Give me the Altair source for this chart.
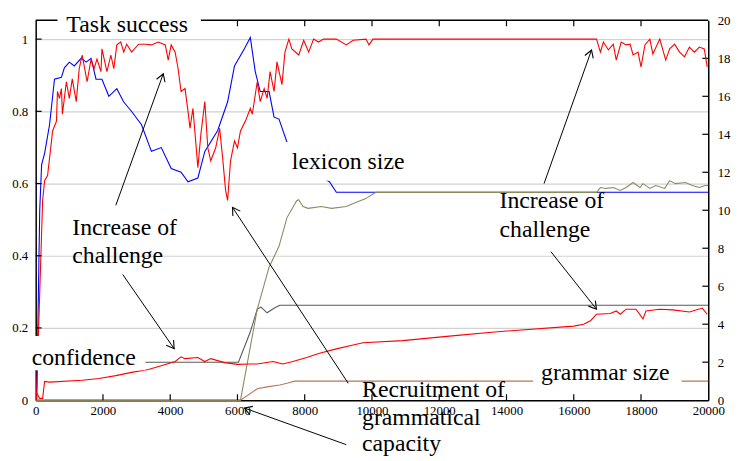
import math
import altair as alt
import pandas as pd

SERIF = "'Liberation Serif', 'Times New Roman', Times, 'DejaVu Serif', serif"

# ---------------- axes ----------------
x_ticks = list(range(0, 20001, 2000))
left_ticks = [0, 0.2, 0.4, 0.6, 0.8, 1.0]
right_ticks = list(range(0, 21, 2))
left_max = 1.052
right_max = 20

# ---------------- series (left axis, 0..1) ----------------
task_x = [20, 206, 265, 353, 471, 500, 618, 647, 706, 765, 794, 912, 1000, 1088, 1206, 1294, 1382,
          1529, 1647, 1735, 1823, 1941, 1970, 2118, 2235, 2323, 2412, 2529, 2618, 2706, 2853, 3059,
          3265, 3441, 3647, 3853, 3941, 4029, 4147, 4235, 4323, 4441, 4529, 4588, 4676, 4823, 4912,
          5029, 5118, 5206, 5353, 5470, 5559, 5647, 5706, 5794, 5912, 6000, 6088, 6235, 6382, 6441,
          6588, 6676, 6794, 6882, 6970, 7088, 7176, 7323, 7412, 7529, 7617, 7823, 7970, 8118, 8264,
          8411, 8558, 8941, 9235, 9441, 9823, 9911, 10029, 16676, 16793, 16882, 17029, 17176, 17264,
          17411, 17558, 17676, 17764, 17911, 18000, 18117, 18264, 18352, 18558, 18735, 18852, 18999,
          19146, 19293, 19440, 19587, 19734, 19881, 19969]
task_y = [0.0, 0.553, 0.608, 0.622, 0.718, 0.745, 0.773, 0.855, 0.836, 0.863, 0.792, 0.882, 0.836,
          0.89, 0.827, 0.918, 0.956, 0.882, 0.945, 0.918, 0.945, 0.91, 0.973, 0.91, 0.956, 0.918,
          0.984, 0.992, 0.964, 0.986, 0.964, 0.986, 0.986, 0.984, 0.992, 0.984, 0.942, 0.984, 0.964,
          0.918, 0.855, 0.863, 0.8, 0.753, 0.808, 0.644, 0.737, 0.827, 0.699, 0.663, 0.699, 0.753,
          0.671, 0.581, 0.553, 0.663, 0.718, 0.699, 0.745, 0.773, 0.808, 0.792, 0.882, 0.827, 0.863,
          0.836, 0.91, 0.855, 0.937, 0.874, 0.964, 1.0, 0.973, 0.956, 0.997, 0.964, 1.0, 0.992, 1.0,
          1.0, 0.984, 0.997, 1.0, 0.984, 1.0, 1.0, 0.964, 0.992, 0.97, 0.986, 0.942, 0.992, 0.984,
          0.986, 0.956, 0.964, 0.923, 0.984, 1.0, 0.959, 1.0, 0.942, 0.973, 0.986, 0.964, 0.951,
          0.978, 0.964, 0.978, 0.973, 0.923]

conf_x = [29, 118, 206, 265, 412, 1382, 1882, 2382, 2853, 3353, 3853, 4147, 4323, 4441, 4823, 5029,
          5206, 5617, 6000, 6382, 6588, 7058, 7353, 7647, 8058, 8441, 8941, 9441, 9735, 10911,
          12382, 13646, 16000, 16294, 16500, 16676, 17088, 17264, 17382, 17558, 17852, 18058,
          18147, 18558, 18940, 19440, 19822, 19969]
conf_y = [0.02, 0.005, 0.005, 0.052, 0.05, 0.055, 0.06, 0.068, 0.077, 0.085, 0.099, 0.107, 0.12,
          0.115, 0.118, 0.107, 0.115, 0.104, 0.099, 0.1, 0.1, 0.107, 0.1, 0.107, 0.118, 0.13, 0.142,
          0.153, 0.159, 0.165, 0.178, 0.189, 0.205, 0.21, 0.22, 0.238, 0.24, 0.247, 0.238, 0.252,
          0.252, 0.225, 0.247, 0.252, 0.25, 0.244, 0.255, 0.238]

# ---------------- series (right axis, 0..20) ----------------
lex_x = [30, 120, 176, 265, 412, 559, 765, 853, 1000, 1147, 1353, 1500, 1647, 1794, 1970, 2176,
         2412, 2618, 2853, 3147, 3441, 3735, 4029, 4323, 4529, 4823, 5029, 5412, 5706, 5912, 6206,
         6382, 6529, 6676, 6941, 7088, 7235, 7470, 8441, 8735, 8941, 20000]
lex_y = [0, 10.0, 12.4, 13.0, 14.5, 16.9, 17.0, 17.5, 17.8, 17.6, 18.0, 17.8, 18.0, 16.9, 16.9,
         16.0, 16.4, 15.7, 15.2, 14.5, 13.1, 13.3, 12.2, 12.0, 11.5, 11.7, 13.1, 14.2, 15.7, 17.6,
         18.5, 19.1, 17.3, 16.25, 16.25, 14.9, 14.8, 13.6, 11.8, 11.5, 10.95, 10.95]

olive_x = [0, 6090, 6590, 6940, 7235, 7470, 7760, 7820, 7950, 8100, 8500, 8800, 9235, 9500, 9800,
           10118, 16676, 16793, 16970, 17176, 17382, 17558, 17764, 17970, 18058, 18264, 18440,
           18705, 18852, 19028, 19322, 19528, 19734, 19910, 20000]
olive_y = [0, 0, 4.8, 7.0, 8.1, 9.6, 10.5, 10.55, 10.2, 10.1, 10.2, 10.1, 10.2, 10.4, 10.6, 10.94,
           10.94, 11.2, 11.15, 11.2, 11.04, 11.2, 11.46, 11.2, 11.4, 11.15, 11.3, 11.15, 11.56,
           11.4, 11.46, 11.3, 11.2, 11.3, 11.3]

gray_x = [0, 6030, 6382, 6590, 6700, 6880, 7100, 7260, 20000]
gray_y = [2, 2, 3.6, 4.8, 4.9, 4.6, 4.85, 5.0, 5.0]

gram_x = [0, 6090, 6590, 6880, 7260, 7500, 7700, 20000]
gram_y = [0, 0, 0.6, 0.7, 0.8, 0.9, 1.0, 1.0]

# ---------------- annotations (data coords, left axis) ----------------
label_text = ["Task success", "lexicon size", "Increase of", "challenge", "confidence",
              "Increase of", "challenge", "Recruitment of", "grammatical", "capacity",
              "grammar size"]
label_x = [912, 7617, 1088, 1088, -118, 13793, 13793, 9705, 9705, 9705, 15029]
label_y = [1.0205, 0.641, 0.4575, 0.381, 0.0986, 0.5315, 0.452, 0.0082, -0.0685, -0.1397, 0.0548]

box_x1 = [647, 7412, -235, 14793]
box_x2 = [4912, 11235, 3265, 19205]
box_y1 = [1.008, 0.608, 0.083, 0.027]
box_y2 = [1.085, 0.715, 0.178, 0.1205]

arrow_tx = [2382, 2588, 9294, 9235, 15117, 15323]
arrow_ty = [0.5397, 0.348, 0.0466, -0.1233, 0.6, 0.411]
arrow_hx = [3794, 4117, 5853, 6206, 16529, 16676]
arrow_hy = [0.9041, 0.1425, 0.534, -0.0219, 0.9699, 0.252]

W, H = 680, 384

# ---------------- build ----------------
x_scale = alt.Scale(domain=[0, 20000], nice=False, zero=False)
x_axis = alt.Axis(values=x_ticks, format="d", title=None, ticks=False, grid=False,
                  labelFont=SERIF, labelFontSize=13, labelColor="black", labelFlush=False,
                  labelOverlap=False, labelPadding=5, domainColor="black", domainWidth=1.5)
X = alt.X("x:Q", scale=x_scale, axis=x_axis)

l_scale = alt.Scale(domain=[0, left_max], nice=False, zero=False)
l_axis = alt.Axis(values=left_ticks, format="~g", title=None, ticks=False, grid=True,
                  gridColor="#d2d2d2", gridWidth=1.2, labelFont=SERIF, labelFontSize=13,
                  labelColor="black", labelFlush=False, labelOverlap=False, labelPadding=8,
                  domainColor="black", domainWidth=1.5, orient="left")
YL = alt.Y("v:Q", scale=l_scale, axis=l_axis)

r_scale = alt.Scale(domain=[0, right_max], nice=False, zero=False)
r_axis = alt.Axis(values=right_ticks, format="d", title=None, ticks=False, grid=False,
                  labelFont=SERIF, labelFontSize=13, labelColor="black", labelFlush=False,
                  labelOverlap=False, labelPadding=9, domainColor="black", domainWidth=1.5,
                  orient="right")
YR = alt.Y("v:Q", scale=r_scale, axis=r_axis)


def line(xs, ys, color, Y, width=1.1):
    df = pd.DataFrame({"x": xs, "v": ys})
    return alt.Chart(df).mark_line(color=color, strokeWidth=width, interpolate="linear").encode(x=X, y=Y)


# right-axis group
lex = line(lex_x, lex_y, "#0000ff", YR)
gray = line(gray_x, gray_y, "#5a5a5a", YR)
gram = line(gram_x, gram_y, "#b8775a", YR)
olive = line(olive_x, olive_y, "#8b8b60", YR)
r_tick_df = pd.DataFrame({"v": right_ticks[1:-1]})
r_ticks = alt.Chart(r_tick_df).mark_rule(color="black", strokeWidth=1.2).encode(
    y=YR, x=alt.value(W), x2=alt.value(W - 6))
right_group = alt.layer(lex, gray, gram, olive, r_ticks)

# left-axis group
task = line(task_x, task_y, "#ff0000", YL)
conf = line(conf_x, conf_y, "#ff0000", YL)
l_tick_df = pd.DataFrame({"v": left_ticks[1:]})
l_ticks = alt.Chart(l_tick_df).mark_rule(color="black", strokeWidth=1.2).encode(
    y=YL, x=alt.value(0), x2=alt.value(6))
xt_df = pd.DataFrame({"x": x_ticks[1:-1]})
top_ticks = alt.Chart(xt_df).mark_rule(color="black", strokeWidth=1.2).encode(
    x=X, y=alt.value(0), y2=alt.value(6))
bot_ticks = alt.Chart(xt_df).mark_rule(color="black", strokeWidth=1.2).encode(
    x=X, y=alt.value(H), y2=alt.value(H - 6))
top_border = alt.Chart(pd.DataFrame({"k": [0]})).mark_rule(color="black", strokeWidth=1.5).encode(
    x=alt.value(0), x2=alt.value(W), y=alt.value(0))

box_df = pd.DataFrame({"x": box_x1, "x2": box_x2, "v": box_y1, "v2": box_y2})
boxes = alt.Chart(box_df).mark_rect(color="white", opacity=1).encode(
    x=X, x2="x2:Q", y=YL, y2="v2:Q")

text_df = pd.DataFrame({"x": label_x, "v": label_y, "t": label_text})
texts = alt.Chart(text_df).mark_text(font=SERIF, fontSize=24, color="black", align="left",
                                     baseline="alphabetic").encode(x=X, y=YL, text="t:N")

sx = W / 20000.0
sy = H / left_max
angles = []
for tx, ty, hx, hy in zip(arrow_tx, arrow_ty, arrow_hx, arrow_hy):
    dx = (hx - tx) * sx
    dy = -(hy - ty) * sy
    angles.append(math.degrees(math.atan2(dx, -dy)) % 360)

arr_df = pd.DataFrame({"x": arrow_tx, "v": arrow_ty, "x2": arrow_hx, "v2": arrow_hy})
arrow_lines = alt.Chart(arr_df).mark_rule(color="black", strokeWidth=1).encode(
    x=X, y=YL, x2="x2:Q", y2="v2:Q")
head_df = pd.DataFrame({"x": arrow_hx, "v": arrow_hy, "a": angles})
heads = alt.Chart(head_df).mark_point(shape="M -0.6 1 L 0 0 L 0.6 1", filled=False, size=225,
                                      color="black", strokeWidth=1.1, opacity=1).encode(
    x=X, y=YL, angle=alt.Angle("a:Q", scale=None))

left_group = alt.layer(task, conf, l_ticks, top_ticks, bot_ticks, top_border, boxes, texts,
                       arrow_lines, heads)

chart = alt.layer(right_group, left_group).resolve_scale(y="independent").properties(
    width=W, height=H,
    padding={"left": 28, "top": 10, "right": 24, "bottom": 56},
    autosize=alt.AutoSizeParams(type="none"),
    background="white",
).configure_view(stroke=None)

chart.save("out.html", embed_options={"renderer": "svg", "actions": False})
